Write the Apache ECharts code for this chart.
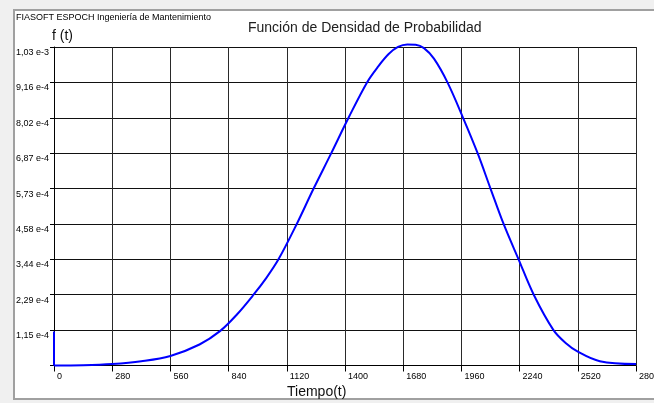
<!DOCTYPE html>
<html>
<head>
<meta charset="utf-8">
<script src="https://cdn.jsdelivr.net/npm/echarts@6/dist/echarts.min.js"></script>
<style>
  html, body { margin: 0; padding: 0; background: #f0f0f0; }
  #chart { width: 654px; height: 403px; }
</style>
</head>
<body>
<div id="chart"></div>
<script>
// time values
const tiempo = [0, 140, 280, 420, 560, 700, 800, 880, 960, 1020, 1080, 1168, 1249, 1334, 1417, 1506, 1560, 1610, 1655, 1700, 1740, 1780, 1828, 1893, 1968, 2038, 2100, 2163, 2235, 2308, 2403, 2460, 2520, 2626, 2800];
// density values f(t) at those times
const densidad = [0, 1e-6, 5e-6, 1.4e-5, 3.1e-5, 6.8e-5, 1.12e-4, 1.65e-4, 2.29e-4, 2.82e-4, 3.436e-4, 4.581e-4, 5.727e-4, 6.872e-4, 8.017e-4, 9.162e-4, 9.68e-4, 1.008e-3, 1.031e-3, 1.039e-3, 1.038e-3, 1.027e-3, 9.93e-4, 9.162e-4, 8.017e-4, 6.872e-4, 5.727e-4, 4.581e-4, 3.436e-4, 2.291e-4, 1.145e-4, 7.4e-5, 4.5e-5, 1.4e-5, 4.5e-6];
// short vertical stroke drawn at t = 0
const arranqueT = [0, 0];
const arranqueF = [1.1e-4, 0];

const yTickLabels = ['', '1,15 e-4', '2,29 e-4', '3,44 e-4', '4,58 e-4', '5,73 e-4', '6,87 e-4', '8,02 e-4', '9,16 e-4', '1,03 e-3'];
const xTickLabels = ['0', '280', '560', '840', '1120', '1400', '1680', '1960', '2240', '2520', '2800'];

const yStep = 1.1453e-4;
const yMax = yStep * (yTickLabels.length - 1);
const xStep = 280;
const xMax = xStep * (xTickLabels.length - 1);

const chart = echarts.init(document.getElementById('chart'), null, { renderer: 'canvas' });

const font = 'Liberation Sans, Arial, sans-serif';
const curveStyle = { color: '#0000ff', width: 2 };

chart.setOption({
  backgroundColor: '#f0f0f0',
  animation: false,
  graphic: [
    {
      type: 'rect', z: -100,
      shape: { x: 14, y: 10, width: 660, height: 389 },
      style: { fill: '#ffffff', stroke: '#a0a0a0', lineWidth: 2 }
    },
    {
      type: 'text', left: 16, top: 13,
      style: { text: 'FIASOFT ESPOCH Ingeniería de Mantenimiento', fill: '#000', font: '9px ' + font }
    },
    {
      type: 'text', left: 248, top: 21,
      style: { text: 'Función de Densidad de Probabilidad', fill: '#202020', font: '14px ' + font }
    },
    {
      type: 'text', left: 52, top: 29,
      style: { text: 'f (t)', fill: '#101010', font: '14px ' + font }
    },
    {
      type: 'text', left: 287, top: 385,
      style: { text: 'Tiempo(t)', fill: '#101010', font: '14px ' + font }
    }
  ],
  grid: { left: 54, top: 47, width: 582, height: 318.5, containLabel: false, outerBoundsMode: 'none' },
  xAxis: {
    type: 'value', min: 0, max: xMax, interval: xStep,
    axisLine: { show: true, onZero: false, lineStyle: { color: '#000', width: 1 } },
    axisTick: { show: true, length: 6, lineStyle: { color: '#000' } },
    axisLabel: {
      margin: 7, align: 'left', padding: [0, 0, 0, 3],
      color: '#000', fontFamily: font, fontSize: 9,
      formatter: v => xTickLabels[Math.round(v / xStep)]
    },
    splitLine: { show: true, lineStyle: { color: '#2a2a2a', width: 1 } }
  },
  yAxis: {
    type: 'value', min: 0, max: yMax, interval: yStep,
    axisLine: { show: true, lineStyle: { color: '#000', width: 1 } },
    axisTick: { show: true, length: 4, lineStyle: { color: '#000' } },
    axisLabel: {
      margin: 38, align: 'left', verticalAlign: 'top', padding: [1, 0, 0, 0],
      color: '#000', fontFamily: font, fontSize: 9,
      formatter: v => yTickLabels[Math.round(v / yStep)]
    },
    splitLine: { show: true, lineStyle: { color: '#111', width: 1 } }
  },
  series: [
    {
      type: 'line',
      data: tiempo.map((t, i) => [t, densidad[i]]),
      smooth: 0.35,
      clip: false,
      showSymbol: false,
      lineStyle: curveStyle
    },
    {
      type: 'line',
      data: arranqueT.map((t, i) => [t, arranqueF[i]]),
      clip: false,
      showSymbol: false,
      lineStyle: curveStyle
    }
  ]
});
</script>
</body>
</html>
